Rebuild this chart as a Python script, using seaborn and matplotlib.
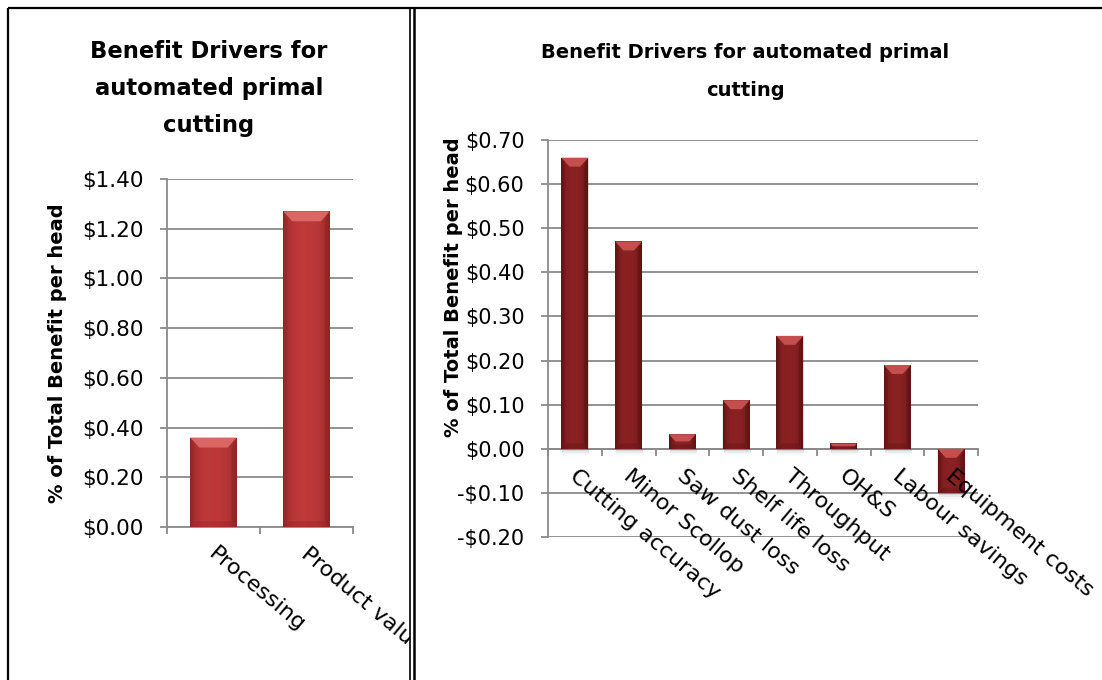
import numpy as np
import pandas as pd
import matplotlib
matplotlib.use("Agg")
import matplotlib.pyplot as plt
import seaborn as sns
from matplotlib.patches import Polygon, Rectangle
from matplotlib.lines import Line2D
from matplotlib.ticker import FuncFormatter, FixedLocator
from matplotlib.transforms import offset_copy
from matplotlib.colors import to_rgb

# ---- data -------------------------------------------------------------
summary_categories = ["Processing", "Product value"]
summary_values = [0.36, 1.27]
summary_ticks = [0.0, 0.2, 0.4, 0.6, 0.8, 1.0, 1.2, 1.4]

driver_categories = ["Cutting accuracy", "Minor Scollop", "Saw dust loss",
                     "Shelf life loss", "Throughput", "OH&S",
                     "Labour savings", "Equipment costs"]
driver_values = [0.66, 0.47, 0.033, 0.11, 0.256, 0.012, 0.19, -0.10]
driver_ticks = [-0.2, -0.1, 0.0, 0.1, 0.2, 0.3, 0.4, 0.5, 0.6, 0.7]

summary_title = ["Benefit Drivers for", "automated primal", "cutting"]
driver_title = ["Benefit Drivers for automated primal", "cutting"]
value_axis_title = "% of Total Benefit per head"

# ---- style ------------------------------------------------------------
sns.set_theme(style="white")
plt.rcParams["font.family"] = ["DejaVu Sans"]

W, H = 1102, 680
GRID = "#8a8a8a"


def fx(px):
    return px / W


def fy(py):
    return 1 - py / H


def money(v, _pos=None):
    v = round(v, 2)
    if v < 0:
        return "-${:.2f}".format(abs(v))
    return "${:.2f}".format(v)


def bevel_bars(ax, face, light, dark, depth_px):
    """Give each bar a soft horizontal gradient, bevelled edges and a shadow."""
    fc, lc, dc = np.array(to_rgb(face)), np.array(to_rgb(light)), np.array(to_rgb(dark))
    t = np.linspace(0, 1, 64)
    shade = np.clip(np.abs(2 * t - 1) ** 3, 0, 1)
    shade = shade * 0.9 + 0.1 * t
    row = fc[None, :] * (1 - shade[:, None]) + dc[None, :] * shade[:, None]
    img = row[None, :, :]
    inv = ax.transData.inverted()
    for p in list(ax.patches):
        x0, w = p.get_x(), p.get_width()
        y0, h = p.get_y(), p.get_height()
        bot, top = min(y0, y0 + h), max(y0, y0 + h)
        im = ax.imshow(img, extent=[x0, x0 + w, bot, top], aspect="auto",
                       interpolation="bilinear", zorder=p.get_zorder() + 0.1)
        im.set_clip_path(p)
        (xl, yb), (xr, yt) = ax.transData.transform([(x0, bot), (x0 + w, top)])
        d = min(depth_px, (yt - yb) / 2.0, (xr - xl) / 3.0)
        polys = [
            ([(xl, yt), (xr, yt), (xr - d * 0.9, yt - d), (xl + d * 0.9, yt - d)], lc, 0.95),
            ([(xl, yb), (xr, yb), (xr - d * 0.6, yb + d * 0.6), (xl + d * 0.6, yb + d * 0.6)], dc, 0.35),
            ([(xr, yt), (xr, yb), (xr - d * 0.5, yb + d * 0.6), (xr - d * 0.5, yt - d)], dc, 0.55),
            ([(xl, yt), (xl, yb), (xl + d * 0.4, yb + d * 0.6), (xl + d * 0.4, yt - d)], dc, 0.3),
        ]
        for pts, col, a in polys:
            ax.add_patch(Polygon(inv.transform(pts), closed=True, facecolor=col,
                                 edgecolor="none", alpha=a,
                                 zorder=p.get_zorder() + 0.2))
        # soft drop shadow under the bar
        for k, a in enumerate([0.12, 0.08, 0.04]):
            sx0, sy0 = inv.transform((xl + 1, yb - 2 * (k + 1)))
            sx1, sy1 = inv.transform((xr + 1, yb))
            ax.add_patch(Rectangle((sx0, sy0), sx1 - sx0, sy1 - sy0,
                                   facecolor="#555555", edgecolor="none",
                                   alpha=a, zorder=p.get_zorder() - 0.2))


def draw_panel(ax, cats, vals, ticks, face, light, dark, depth_px,
               tick_size, cat_size):
    df = pd.DataFrame({"category": cats, "value": vals})
    sns.barplot(data=df, x="category", y="value", order=cats, ax=ax,
                color=face, width=0.5, saturation=1, linewidth=0,
                edgecolor="none", zorder=3)
    ax.set_xlim(-0.5, len(cats) - 0.5)
    ax.set_ylim(ticks[0], ticks[-1])
    ax.yaxis.set_major_locator(FixedLocator(ticks))
    ax.yaxis.set_major_formatter(FuncFormatter(money))
    ax.set_xticks(np.arange(len(cats) + 1) - 0.5)
    ax.set_xticklabels([])
    ax.grid(axis="y", color=GRID, linewidth=1.3)
    ax.grid(axis="x", visible=False)
    ax.set_axisbelow(True)
    for s in ("top", "right"):
        ax.spines[s].set_visible(False)
    ax.spines["left"].set_color(GRID)
    ax.spines["left"].set_linewidth(1.3)
    ax.spines["bottom"].set_color(GRID)
    ax.spines["bottom"].set_linewidth(1.3)
    ax.spines["bottom"].set_position(("data", 0))
    ax.tick_params(axis="x", which="major", bottom=True, direction="out",
                   length=5, width=1.3, color=GRID)
    ax.tick_params(axis="y", which="major", left=True, direction="out",
                   length=5, width=1.3, color=GRID, pad=12,
                   labelsize=tick_size, labelcolor="black")
    ax.set_xlabel("")
    ax.set_ylabel(value_axis_title, fontsize=14, fontweight="bold",
                  color="black")
    ax.set_facecolor("white")

    bevel_bars(ax, face, light, dark, depth_px)
    ax.set_xlim(-0.5, len(cats) - 0.5)
    ax.set_ylim(ticks[0], ticks[-1])

    # category names hang diagonally below the zero line
    lab_tr = offset_copy(ax.transData, fig=ax.figure, x=4, y=-17, units="dots")
    for i, c in enumerate(cats):
        ax.text(i, 0, c, transform=lab_tr, rotation=-40,
                rotation_mode="anchor", ha="left", va="top",
                fontsize=cat_size, color="black", zorder=6)


fig = plt.figure(figsize=(W / 100, H / 100), dpi=100)
fig.patch.set_facecolor("white")

ax1 = fig.add_axes([fx(167), fy(527), (353 - 167) / W, (527 - 179) / H])
ax2 = fig.add_axes([fx(548), fy(537), (978 - 548) / W, (537 - 140) / H])

draw_panel(ax1, summary_categories, summary_values, summary_ticks,
           face="#c0393a", light="#dc6a66", dark="#8e2526", depth_px=10,
           tick_size=15.5, cat_size=16)
draw_panel(ax2, driver_categories, driver_values, driver_ticks,
           face="#8c2224", light="#c85252", dark="#5e1314", depth_px=9,
           tick_size=15, cat_size=16)

ax1.yaxis.set_label_coords((67 - 167) / (353 - 167), 0.5)
ax2.yaxis.set_label_coords((463 - 548) / (978 - 548), 0.63)

# chart titles
for k, line in enumerate(summary_title):
    fig.text(fx(209), fy(58 + 37 * k), line, ha="center", va="baseline",
             fontsize=16.3, fontweight="bold", color="black")
for k, line in enumerate(driver_title):
    fig.text(fx(745), fy(58 + 38 * k), line, ha="center", va="baseline",
             fontsize=14, fontweight="bold", color="black")

# the left chart area ends at its frame: anything running past it is hidden
fig.add_artist(Rectangle((fx(409.5), 0), fx(40), fy(545), transform=fig.transFigure,
                         facecolor="white", edgecolor="none", zorder=20))

# panel frames
frame = dict(transform=fig.transFigure, color="black", solid_capstyle="butt",
             zorder=30)
fig.add_artist(Line2D([fx(8), fx(8)], [fy(8), 0], lw=1.6, **frame))
fig.add_artist(Line2D([fx(8), 1], [fy(8), fy(8)], lw=1.6, **frame))
fig.add_artist(Line2D([fx(410), fx(410)], [fy(8), 0], lw=1.2, **frame))
fig.add_artist(Line2D([fx(413.5), fx(413.5)], [fy(8), 0], lw=1.8, **frame))

fig.savefig("out.png", dpi=100, facecolor="white")
